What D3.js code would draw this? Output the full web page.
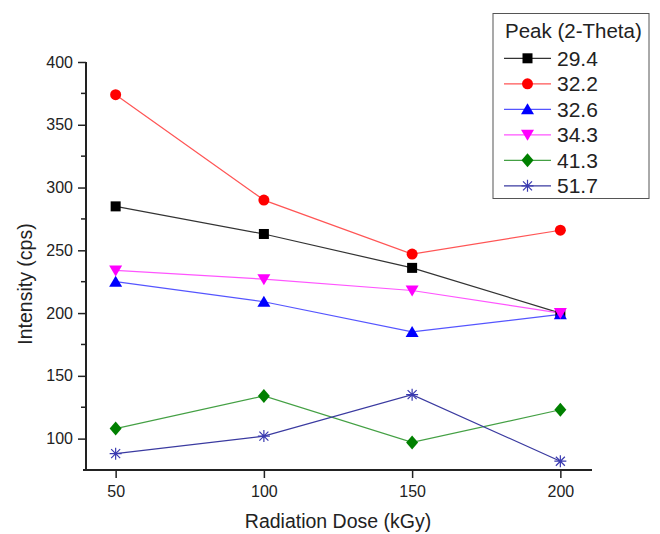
<!DOCTYPE html>
<html>
<head>
<meta charset="utf-8">
<script src="https://cdn.jsdelivr.net/npm/d3@7"></script>
<style>
  body { margin: 0; background: #fff; }
  text { font-family: "Liberation Sans", Arial, sans-serif; fill: #222; }
</style>
</head>
<body>
<div id="chart"></div>
<script>
// data
var doses = [50, 100, 150, 200];
var peaks = ["29.4", "32.2", "32.6", "34.3", "41.3", "51.7"];
var peak294 = [285, 263, 236, 200];
var peak322 = [374, 290, 247, 266];
var peak326 = [225, 209, 185, 199];
var peak343 = [234, 227, 218, 200];
var peak413 = [108, 134, 97, 123];
var peak517 = [88, 102, 135, 82];
var yTicks = [100, 150, 200, 250, 300, 350, 400];
var xTicks = [50, 100, 150, 200];

var seriesValues = [peak294, peak322, peak326, peak343, peak413, peak517];
var colors = ["#000000", "#ff0000", "#0000ff", "#ff00ff", "#008000", "#000080"];
var lineColors = ["#333333", "#ff5555", "#5555ff", "#ff55ff", "#44a044", "#3a3aa0"];
var shapes = ["square", "circle", "triangle", "triangleDown", "diamond", "asterisk"];

var W = 660, H = 534;
var margin = {top: 62, right: 70, bottom: 65, left: 86},
    width = 590 - margin.left,
    height = 470 - margin.top;

var svg = d3.select("#chart")
  .append("svg")
    .attr("width", W)
    .attr("height", H)
  .append("g")
    .attr("transform", "translate(" + margin.left + "," + margin.top + ")");

var x = d3.scaleLinear().domain([40, 210]).range([0, width]);
var y = d3.scaleLinear().domain([75, 400]).range([height, 0]);

// Y axis: major ticks with labels, minor ticks between
var yMinor = d3.range(125, 400, 50);
svg.append("g")
  .selectAll("minorY")
  .data(yMinor)
  .enter()
  .append("line")
    .attr("x1", -5).attr("x2", 0)
    .attr("y1", d => y(d)).attr("y2", d => y(d))
    .attr("stroke", "#222").attr("stroke-width", 1.5);

var yAxis = svg.append("g")
  .call(d3.axisLeft(y).tickValues(yTicks).tickSize(8).tickPadding(5));
yAxis.select(".domain").remove();
yAxis.selectAll(".tick line").attr("stroke", "#222").attr("stroke-width", 1.5);
yAxis.selectAll(".tick text").attr("font-size", 16).attr("fill", "#222")
  .attr("font-family", "'Liberation Sans', Arial, sans-serif");

var xAxis = svg.append("g")
  .attr("transform", "translate(0," + height + ")")
  .call(d3.axisBottom(x).tickValues(xTicks).tickSize(8).tickPadding(8));
xAxis.select(".domain").remove();
xAxis.selectAll(".tick line").attr("stroke", "#222").attr("stroke-width", 1.5);
xAxis.selectAll(".tick text").attr("font-size", 16).attr("fill", "#222")
  .attr("font-family", "'Liberation Sans', Arial, sans-serif");

// axis lines
svg.append("line")
  .attr("x1", 0).attr("x2", 0).attr("y1", 0).attr("y2", height + 1)
  .attr("stroke", "#222").attr("stroke-width", 2);
svg.append("line")
  .attr("x1", -3).attr("x2", width + 2).attr("y1", height).attr("y2", height)
  .attr("stroke", "#222").attr("stroke-width", 2);

// axis titles
svg.append("text")
  .attr("text-anchor", "middle")
  .attr("x", 338 - margin.left)
  .attr("y", 528 - margin.top)
  .attr("font-size", 19.5)
  .text("Radiation Dose (kGy)");

svg.append("text")
  .attr("text-anchor", "middle")
  .attr("transform", "rotate(-90)")
  .attr("x", -(284 - margin.top))
  .attr("y", 32 - margin.left)
  .attr("font-size", 19.5)
  .text("Intensity (cps)");

// marker drawing
function drawMarker(g, shape, color) {
  if (shape == "square") {
    g.append("rect").attr("x", -5).attr("y", -5).attr("width", 10).attr("height", 10).attr("fill", color);
  } else if (shape == "circle") {
    g.append("circle").attr("r", 5.5).attr("fill", color);
  } else if (shape == "triangle") {
    g.append("path").attr("d", "M0,-6L6.5,5L-6.5,5Z").attr("fill", color);
  } else if (shape == "triangleDown") {
    g.append("path").attr("d", "M0,6L6.5,-5L-6.5,-5Z").attr("fill", color);
  } else if (shape == "diamond") {
    g.append("path").attr("d", "M0,-7L6,0L0,7L-6,0Z").attr("fill", color);
  } else if (shape == "asterisk") {
    g.append("path")
      .attr("d", "M-6,0L6,0M0,-6L0,6M-4.5,-4.5L4.5,4.5M-4.5,4.5L4.5,-4.5")
      .attr("stroke", "#3a3ab0").attr("stroke-width", 1.2).attr("fill", "none");
  }
}

var line = d3.line()
  .x((d, i) => x(doses[i]))
  .y(d => y(d));

seriesValues.forEach(function(vals, s) {
  svg.append("path")
    .datum(vals)
    .attr("d", line)
    .attr("fill", "none")
    .attr("stroke", lineColors[s])
    .attr("stroke-width", 1.2);
});
seriesValues.forEach(function(vals, s) {
  vals.forEach(function(v, i) {
    var g = svg.append("g").attr("transform", "translate(" + x(doses[i]) + "," + y(v) + ")");
    drawMarker(g, shapes[s], colors[s]);
  });
});

// legend
var legend = d3.select("svg").append("g");
legend.append("rect")
  .attr("x", 493).attr("y", 13.5).attr("width", 156).attr("height", 185)
  .attr("fill", "#fff").attr("stroke", "#555").attr("stroke-width", 1);
legend.append("text")
  .attr("x", 505).attr("y", 38)
  .attr("font-size", 20.5)
  .text("Peak (2-Theta)");
peaks.forEach(function(p, i) {
  var cy = 58.3 + i * 25.5;
  legend.append("line")
    .attr("x1", 504).attr("x2", 551).attr("y1", cy).attr("y2", cy)
    .attr("stroke", lineColors[i]).attr("stroke-width", 1.2);
  var g = legend.append("g").attr("transform", "translate(527.5," + cy + ")");
  drawMarker(g, shapes[i], colors[i]);
  legend.append("text")
    .attr("x", 557).attr("y", cy + 7.5)
    .attr("font-size", 21)
    .text(p);
});
</script>
</body>
</html>
